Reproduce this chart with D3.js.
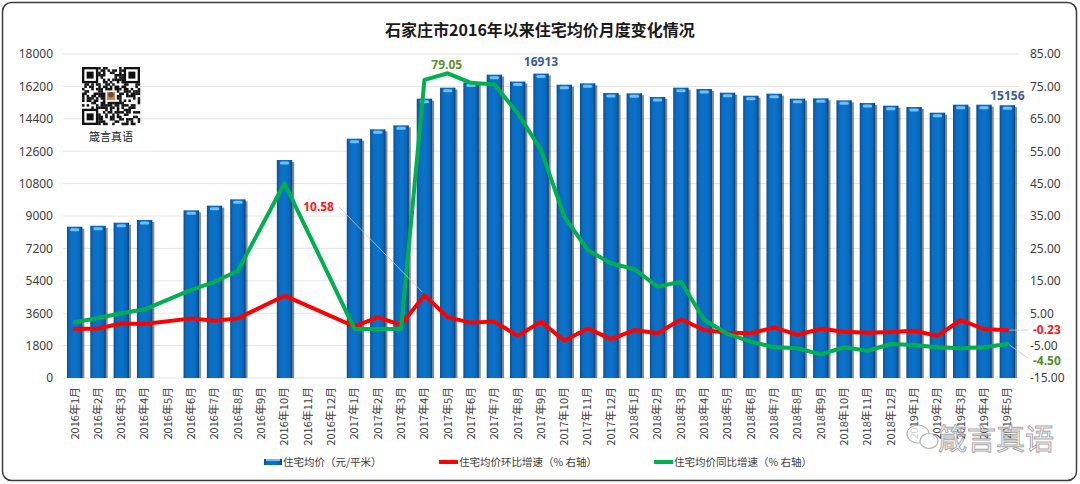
<!DOCTYPE html>
<html><head><meta charset="utf-8">
<script src="https://cdn.jsdelivr.net/npm/d3@7"></script>
<style>
html,body{margin:0;padding:0;background:#fff;}
svg{display:block;font-family:"Noto Sans","Noto Sans CJK SC",sans-serif;}
</style></head>
<body>
<svg id="c" width="1080" height="484"></svg>
<script>
// ---- data ----
const months = ["2016年1月","2016年2月","2016年3月","2016年4月","2016年5月","2016年6月","2016年7月","2016年8月","2016年9月","2016年10月","2016年11月","2016年12月",
"2017年1月","2017年2月","2017年3月","2017年4月","2017年5月","2017年6月","2017年7月","2017年8月","2017年9月","2017年10月","2017年11月","2017年12月",
"2018年1月","2018年2月","2018年3月","2018年4月","2018年5月","2018年6月","2018年7月","2018年8月","2018年9月","2018年10月","2018年11月","2018年12月",
"2019年1月","2019年2月","2019年3月","2019年4月","2019年5月"];
const avgPrice = [8406,8461,8628,8778,null,9315,9574,9926,null,12111,null,null,
13296,13815,14037,15519,16130,16420,16852,16470,16913,16296,16370,15833,
15815,15611,16130,16056,15852,15685,15796,15519,15537,15426,15278,15130,
15056,14741,15185,15185,15156];
const momGrowth = [0.1,0.3,1.8,1.7,null,3.4,2.7,3.4,null,10.4,null,null,
0.9,3.7,1.4,10.58,3.7,2.1,2.4,-2.0,2.4,-3.5,0.3,-3.0,
-0.2,-1.2,3.1,-0.2,-1.0,-1.2,0.6,-1.7,0.2,-0.7,-1.0,-0.8,
-0.4,-2.0,2.9,0.1,-0.23];
const yoyGrowth = [2.2,3.5,5.0,6.2,null,12.2,14.7,18.1,null,45.1,null,null,
0.15,0.1,0.2,77.0,79.05,76.1,75.6,66.7,55.4,34.8,24.5,20.4,
18.6,13.2,14.7,3.0,-1.4,-3.8,-5.5,-5.8,-7.7,-5.5,-6.6,-4.5,
-4.8,-5.5,-5.8,-5.5,-4.5];
const leftTicks = [0,1800,3600,5400,7200,9000,10800,12600,14400,16200,18000];
const rightTicks = [-15,-5,5,15,25,35,45,55,65,75,85];
const title = "石家庄市2016年以来住宅均价月度变化情况";
const legendNames = ["住宅均价（元/平米）","住宅均价环比增速（% 右轴）","住宅均价同比增速（% 右轴）"];

// ---- layout ----
const svg = d3.select("#c");
const plot = {l:63, r:1019, t:54, b:378};
const x = d3.scaleBand().domain(months).range([plot.l, plot.r]).paddingInner(0.34).paddingOuter(0.17);
const yL = d3.scaleLinear().domain([0,18000]).range([plot.b, plot.t]);
const yR = d3.scaleLinear().domain([-15,85]).range([plot.b, plot.t]);
const cx = m => x(m) + x.bandwidth()/2;

// background + border
svg.append("rect").attr("x",0).attr("y",0).attr("width",1080).attr("height",484).attr("fill","#fff");
svg.append("rect").attr("x",2.5).attr("y",2.5).attr("width",1074).attr("height",478).attr("rx",9)
  .attr("fill","#fff").attr("stroke","#3c3c3c").attr("stroke-width",1.5);

// defs
const defs = svg.append("defs");
const g1 = defs.append("linearGradient").attr("id","barg").attr("x1","0").attr("x2","1").attr("y1","0").attr("y2","0");
[["0%","#0b4f8f"],["18%","#0a6cc2"],["55%","#0b72cb"],["85%","#0966b8"],["100%","#073f75"]].forEach(s=>g1.append("stop").attr("offset",s[0]).attr("stop-color",s[1]));

// title
svg.append("text").attr("x",540).attr("y",36).attr("text-anchor","middle")
  .attr("font-family","'Noto Sans CJK SC',sans-serif").attr("font-weight","bold").attr("font-size",16).attr("fill","#1a1a1a").text(title);

// gridlines
svg.append("g").selectAll("line").data(leftTicks).join("line")
  .attr("x1",plot.l).attr("x2",plot.r).attr("y1",d=>yL(d)).attr("y2",d=>yL(d))
  .attr("stroke","#e4e4e4").attr("stroke-width",1);

// left axis
const axL = svg.append("g").attr("transform",`translate(${plot.l},0)`)
  .call(d3.axisLeft(yL).tickValues(leftTicks).tickFormat(d3.format("d")).tickSize(0).tickPadding(10));
axL.select(".domain").remove();
axL.selectAll("text").attr("font-size",12).attr("fill","#404040").attr("font-family","'Noto Sans',sans-serif");

// right axis
const axR = svg.append("g").attr("transform",`translate(${plot.r},0)`)
  .call(d3.axisRight(yR).tickValues(rightTicks).tickFormat(d=>d.toFixed(2)).tickSize(0).tickPadding(11));
axR.select(".domain").remove();
axR.selectAll("text").attr("font-size",12).attr("fill","#404040").attr("font-family","'Noto Sans',sans-serif");

// x axis labels
const axX = svg.append("g").attr("transform",`translate(0,${plot.b})`)
  .call(d3.axisBottom(x).tickSize(0).tickPadding(0));
axX.select(".domain").remove();
axX.selectAll("text").attr("font-size",11).attr("fill","#404040")
  .attr("font-family","'Noto Sans CJK SC',sans-serif")
  .attr("text-anchor","end").attr("dy","0.35em")
  .attr("transform","translate(0,9) rotate(-90)").attr("x",0).attr("y",0);

// bars
const barData = months.map((m,i)=>({m, v:avgPrice[i]})).filter(d=>d.v!=null);
const bw = x.bandwidth();
const bars = svg.append("g");
bars.selectAll("rect.sh").data(barData).join("rect").attr("class","sh")
  .attr("x",d=>x(d.m)+2).attr("y",d=>yL(d.v)+2).attr("width",bw).attr("height",d=>plot.b-yL(d.v)-2)
  .attr("fill","#1d2a38").attr("opacity",0.55);
bars.selectAll("rect.b").data(barData).join("rect").attr("class","b")
  .attr("x",d=>x(d.m)).attr("y",d=>yL(d.v)).attr("width",bw).attr("height",d=>plot.b-yL(d.v))
  .attr("fill","url(#barg)");
bars.selectAll("rect.cap").data(barData).join("rect").attr("class","cap")
  .attr("x",d=>x(d.m)+3).attr("y",d=>yL(d.v)+1.5).attr("width",bw-6).attr("height",3).attr("rx",1.5)
  .attr("fill","#6fc0f4");

// lines
function drawLine(vals,color){
  const pts = months.map((m,i)=>({m,v:vals[i]})).filter(d=>d.v!=null);
  svg.append("path").datum(pts)
    .attr("d", d3.line().x(d=>cx(d.m)).y(d=>yR(d.v)))
    .attr("fill","none").attr("stroke",color).attr("stroke-width",4)
    .attr("stroke-linejoin","round").attr("stroke-linecap","round");
}
drawLine(momGrowth,"#ff0000");
drawLine(yoyGrowth,"#00b050");

// data labels
const lab = (t,xx,yy,col,anchor)=>svg.append("text").attr("x",xx).attr("y",yy).attr("text-anchor",anchor||"middle")
  .attr("font-weight","bold").attr("font-size",12).attr("fill",col).attr("font-family","'Noto Sans',sans-serif").text(t);
const iMax = avgPrice.indexOf(d3.max(avgPrice));
lab(d3.max(avgPrice), cx(months[iMax]), yL(avgPrice[iMax])-8, "#3b5a94");
const iLast = months.length-1;
lab(avgPrice[iLast], cx(months[iLast]), yL(avgPrice[iLast])-5, "#3b5a94");
const iY = yoyGrowth.indexOf(d3.max(yoyGrowth.filter(v=>v!=null)));
lab(yoyGrowth[iY].toFixed(2), cx(months[iY])-1, yR(yoyGrowth[iY])-4, "#5e8f2e");
const iM = momGrowth.indexOf(d3.max(momGrowth.filter(v=>v!=null)));
svg.append("line").attr("x1",339).attr("y1",207).attr("x2",cx(months[iM])-2).attr("y2",yR(momGrowth[iM])-3)
  .attr("stroke","#c8c8c8").attr("stroke-width",0.8);
lab(momGrowth[iM].toFixed(2), 334, 211, "#ff1a1a","end");
svg.append("line").attr("x1",cx(months[iLast])+2).attr("y1",yR(momGrowth[iLast])).attr("x2",1028).attr("y2",yR(momGrowth[iLast]))
  .attr("stroke","#c8c8c8").attr("stroke-width",0.8);
lab(momGrowth[iLast].toFixed(2), 1033, yR(momGrowth[iLast])+4, "#ff1a1a","start");
svg.append("line").attr("x1",cx(months[iLast])+2).attr("y1",yR(yoyGrowth[iLast])+1).attr("x2",1028).attr("y2",358)
  .attr("stroke","#c8c8c8").attr("stroke-width",0.8);
lab(yoyGrowth[iLast].toFixed(2), 1033, 365, "#4f8f2f","start");

// legend
const lg = svg.append("g").attr("font-family","'Noto Sans CJK SC',sans-serif").attr("font-size",10.5).attr("fill","#404040");
lg.append("rect").attr("x",264).attr("y",459).attr("width",18).attr("height",6).attr("fill","url(#barg)");
lg.append("rect").attr("x",266).attr("y",459).attr("width",14).attr("height",2).attr("fill","#6fc0f4");
lg.append("text").attr("x",283).attr("y",466).text(legendNames[0]);
lg.append("line").attr("x1",439).attr("x2",458).attr("y1",462).attr("y2",462).attr("stroke","#ff0000").attr("stroke-width",4);
lg.append("text").attr("x",459).attr("y",466).text(legendNames[1]);
lg.append("line").attr("x1",654).attr("x2",673).attr("y1",462).attr("y2",462).attr("stroke","#00b050").attr("stroke-width",4);
lg.append("text").attr("x",674).attr("y",466).text(legendNames[2]);

// QR code decoration (deterministic pattern)
const qr = svg.append("g").attr("transform","translate(82,67)");
const N = 25, cs = 58/N;
function h(i,j){ let s = (i*73856093) ^ (j*19349663) ^ 0x5bd1e995; s = (s ^ (s>>>13)) * 1274126177; return ((s ^ (s>>>16)) & 7) < 4; }
const finder = (i,j)=>{
  const inF=(a,b)=>i>=a&&i<a+7&&j>=b&&j<b+7;
  return inF(0,0)||inF(0,N-7)||inF(N-7,0);
};
for(let i=0;i<N;i++)for(let j=0;j<N;j++){
  if(finder(i,j)) continue;
  if(i>=10&&i<15&&j>=10&&j<15) continue;
  if(h(i,j)) qr.append("rect").attr("x",j*cs).attr("y",i*cs).attr("width",cs+0.2).attr("height",cs+0.2).attr("fill","#111");
}
[[0,0],[0,N-7],[N-7,0]].forEach(([a,b])=>{
  qr.append("rect").attr("x",b*cs+cs/2).attr("y",a*cs+cs/2).attr("width",6*cs).attr("height",6*cs).attr("fill","none").attr("stroke","#111").attr("stroke-width",cs);
  qr.append("rect").attr("x",(b+2)*cs).attr("y",(a+2)*cs).attr("width",3*cs).attr("height",3*cs).attr("fill","#111");
});
qr.append("rect").attr("x",10.5*cs).attr("y",10.5*cs).attr("width",4*cs).attr("height",4*cs).attr("fill","#b98a66").attr("stroke","#fff").attr("stroke-width",0.8);
qr.append("circle").attr("cx",12.5*cs).attr("cy",12*cs).attr("r",1.2*cs).attr("fill","#6b4a36");
svg.append("text").attr("x",111).attr("y",141).attr("text-anchor","middle").attr("font-size",11)
  .attr("font-family","'Noto Sans CJK SC',sans-serif").attr("fill","#222").text("箴言真语");

// watermark
const wm = svg.append("g").attr("opacity",0.75);
wm.append("ellipse").attr("cx",918).attr("cy",434).attr("rx",11).attr("ry",9).attr("fill","#fff").attr("stroke","#9a9a9a").attr("stroke-width",1.2);
wm.append("ellipse").attr("cx",929).attr("cy",441).attr("rx",9).attr("ry",7.5).attr("fill","#fff").attr("stroke","#9a9a9a").attr("stroke-width",1.2);
wm.append("text").attr("x",938).attr("y",450).attr("font-size",29).attr("font-family","'Noto Sans CJK SC',sans-serif")
  .attr("fill","#fff").attr("stroke","#8c8c8c").attr("stroke-width",1).text("箴言真语");
</script>
</body></html>
